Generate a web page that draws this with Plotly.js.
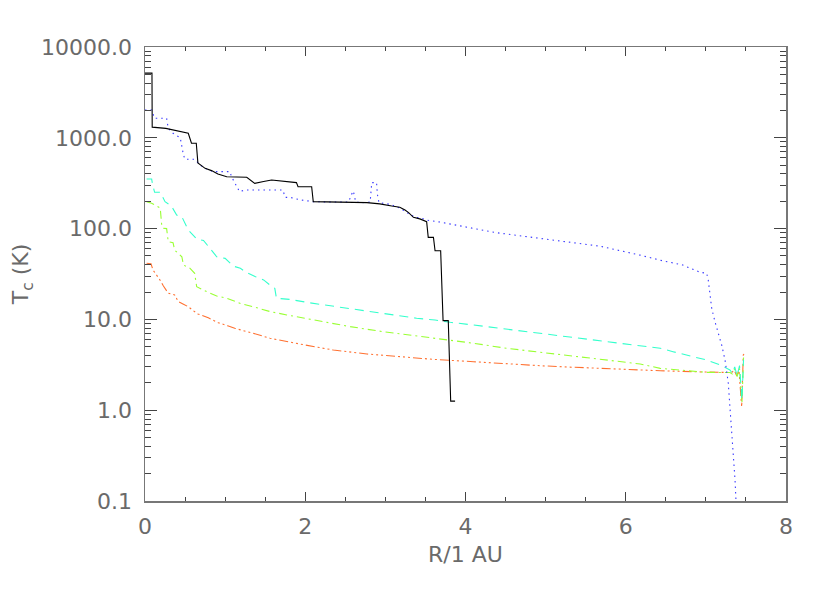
<!DOCTYPE html>
<html>
<head>
<meta charset="utf-8">
<script src="https://cdn.plot.ly/plotly-3.0.1.min.js"></script>
<style>html,body{margin:0;padding:0;background:#fff;}#chart{width:830px;height:593px;}</style>
</head>
<body>
<div id="chart"></div>
<script>
// R / 1 AU and T_c (K) for each model curve
const blackR = [0.0,0.087,0.09,0.26,0.54,0.58,0.64,0.66,0.75,0.83,0.91,1.02,1.27,1.37,1.48,1.58,1.89,1.91,2.08,2.10,2.77,2.93,3.08,3.18,3.245,3.29,3.35,3.43,3.515,3.535,3.60,3.62,3.69,3.72,3.785,3.815,3.87];
const blackT = [5150,5150,1310,1270,1120,870,870,530,461,435,400,372,368,315,330,343,321,289,289,198,193,187,177,172,160,150,133,128,119,80,80,57,57,9.7,9.7,1.26,1.26];

const blueR = [0.0,0.083,0.12,0.27,0.29,0.35,0.44,0.46,0.48,0.50,0.62,0.69,0.75,0.85,1.06,1.08,1.12,1.18,1.25,1.72,1.75,1.81,1.94,2.10,2.31,2.45,2.54,2.58,2.60,2.63,2.70,2.81,2.82,2.83,2.89,2.90,2.92,3.06,3.18,3.29,3.37,3.45,3.52,3.68,3.89,4.14,4.39,5.0,5.68,6.18,6.47,6.70,6.93,7.01,7.03,7.05,7.073,7.114,7.155,7.198,7.239,7.28,7.30,7.322,7.342,7.364,7.376];
const blueT = [2020,2020,1640,1640,1275,1120,1000,795,645,580,580,500,461,424,424,372,316,255,266,266,221,221,207,198,196,195,196,240,259,196,193,196,302,321,321,240,193,185,168,145,133,130,124,118,108,99,90,77,64,51,44,40,33,32.2,27,19.4,13.2,9.4,7.0,5.2,3.57,1.98,1.09,0.605,0.335,0.17,0.10];

const cyanR = [0.02,0.083,0.095,0.12,0.19,0.25,0.33,0.395,0.46,0.54,0.645,0.73,0.81,0.895,1.0,1.1,1.19,1.27,1.38,1.48,1.56,1.62,1.64,1.81,2.04,2.27,2.50,2.73,2.96,3.18,3.39,3.62,3.81,4.10,4.51,4.93,5.35,5.76,6.18,6.43,6.59,6.80,7.01,7.18,7.30,7.33,7.36,7.39,7.42,7.45,7.47];
const cyanT = [352,352,304,251,251,198,177,141,135,96.6,76.8,74,60.7,49,47,38.7,36.5,32.7,29.5,27.2,23.9,22,17.1,16.6,15.3,14.3,13.2,12.4,11.7,11.0,10.3,9.85,9.29,8.67,7.83,7.03,6.29,5.68,5.09,4.81,4.41,3.95,3.57,3.15,2.77,2.55,3.0,2.4,3.1,1.3,3.6];

const greenR = [0.02,0.083,0.19,0.21,0.23,0.27,0.29,0.35,0.37,0.46,0.48,0.56,0.62,0.645,0.77,0.895,1.02,1.19,1.35,1.56,1.77,2.14,2.56,2.97,3.39,3.77,4.10,4.51,4.93,5.35,5.76,6.18,6.43,7.01,7.30,7.33,7.36,7.39,7.42,7.45,7.47];
const greenT = [198,190,169,105,101,100,71.8,70,58,49,39.7,36.6,32.2,22.9,20.2,18.1,17.1,15.0,13.8,12.2,11.2,9.68,8.32,7.33,6.56,6.04,5.46,4.81,4.34,3.95,3.57,3.23,2.89,2.61,2.6,2.5,2.85,2.35,2.9,1.2,3.8];

const orangeR = [0.02,0.075,0.10,0.145,0.187,0.23,0.29,0.37,0.415,0.48,0.54,0.60,0.66,0.79,0.915,1.04,1.12,1.35,1.56,1.93,2.35,2.77,3.18,3.60,4.10,4.51,4.93,5.35,5.76,6.18,6.43,7.0,7.322,7.355,7.385,7.413,7.447,7.467,7.476];
const orangeT = [41.5,41,35,30.8,27.2,23.3,19.4,18.6,15.7,14.7,13.8,12.5,11.5,10.4,9.2,8.46,7.98,7.03,6.2,5.36,4.6,4.16,3.88,3.63,3.42,3.23,3.09,2.97,2.86,2.77,2.72,2.63,2.6,2.75,2.4,2.75,1.09,4.06,4.16];

const yTickVals = [0.1,1,10,100,1000,10000];
const yTickText = ["0.1","1.0","10.0","100.0","1000.0","10000.0"];
const xTickVals = [0,2,4,6,8];
const xTickText = ["0","2","4","6","8"];

const yMinor = [];
for (let e = -1; e < 4; e++) for (let d = 2; d <= 9; d++) yMinor.push(d * Math.pow(10, e));

function tr(x, y, color, dash) {
  return {x: x, y: y, type: 'scatter', mode: 'lines', line: {color: color, width: 1.1, dash: dash}, hoverinfo: 'skip', showlegend: false};
}

const data = [
  tr(orangeR, orangeT, '#ff7030', '9px,3px,2px,3px,2px,3px,2px,3px'),
  tr(greenR, greenT, '#99ff33', '8px,4px,2px,4px'),
  tr(cyanR, cyanT, '#33ffcc', '9px,6px'),
  tr(blueR, blueT, '#3a3aff', '1.5px,4px'),
  tr(blackR, blackT, '#000000', 'solid')
];

const axisFont = {family: 'DejaVu Sans, sans-serif', size: 22, color: '#6a6a6a'};

const layout = {
  width: 830, height: 593,
  margin: {l: 145, r: 44, t: 47, b: 92, pad: 0},
  paper_bgcolor: '#fff', plot_bgcolor: '#fff',
  xaxis: {
    range: [0, 8], tickmode: 'array', tickvals: xTickVals, ticktext: xTickText,
    ticks: 'inside', ticklen: 9, tickwidth: 1, tickcolor: '#444',
    minor: {ticks: 'inside', ticklen: 4, tickwidth: 1, tickcolor: '#444', dtick: 0.5, showgrid: false},
    showline: true, linecolor: '#777', linewidth: 1.5, mirror: 'allticks',
    showgrid: false, zeroline: false, tickfont: axisFont, automargin: false,
    ticklabelstandoff: 5,
    title: {text: 'R/1 AU', font: axisFont, standoff: 8}
  },
  yaxis: {
    type: 'log', range: [-1, 4], tickmode: 'array', tickvals: yTickVals, ticktext: yTickText,
    ticks: 'inside', ticklen: 12, tickwidth: 1, tickcolor: '#444',
    minor: {ticks: 'inside', ticklen: 6, tickwidth: 1, tickcolor: '#444', tickmode: 'array', tickvals: yMinor, showgrid: false},
    showline: true, linecolor: '#777', linewidth: 1.5, mirror: 'allticks',
    showgrid: false, zeroline: false, tickfont: axisFont, automargin: false,
    ticklabelstandoff: 7,
    title: {text: 'T<sub>c</sub> (K)', font: axisFont, standoff: 6}
  }
};

Plotly.newPlot('chart', data, layout, {displayModeBar: false, staticPlot: true});
</script>
</body>
</html>
